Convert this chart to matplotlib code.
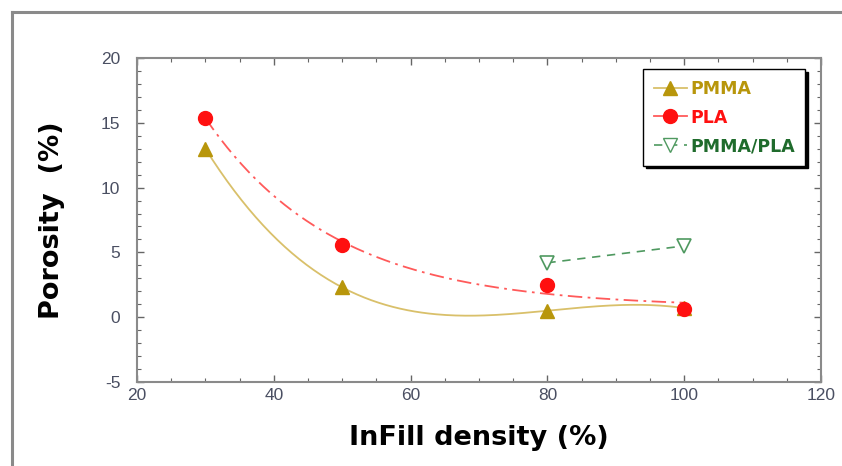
import matplotlib
matplotlib.use("Agg")
import matplotlib.pyplot as plt
from matplotlib.lines import Line2D
import numpy as np

# data
infill = [30, 50, 80, 100]
pmma = [13.0, 2.3, 0.5, 0.7]
pla = [15.4, 5.6, 2.5, 0.6]
blend_x = [80, 100]
blend = [4.2, 5.5]

gold = "#b8960b"
gold_line = "#d9c06a"
red = "#ff1010"
red_line = "#ff5a5a"
green_text = "#1f6b2c"
green = "#4f9960"

plt.rcParams["font.family"] = ["Liberation Sans Narrow", "Liberation Sans", "DejaVu Sans"]
plt.rcParams["axes.unicode_minus"] = False

fig = plt.figure(figsize=(8.42, 4.66), dpi=100)
ax = fig.add_axes([137 / 842, 1 - 382 / 466, 684 / 842, 324 / 466])

xs = np.linspace(30, 100, 200)

# PMMA trend: cubic through the points
c_pmma = np.polyfit(infill, pmma, 3)

# PLA trend: exponential decay with offset, least squares over the rate
x_arr = np.array(infill, dtype=float)
y_arr = np.array(pla)
best = None
for b in np.linspace(0.005, 0.2, 800):
    A = np.column_stack([np.exp(-b * (x_arr - 30)), np.ones_like(x_arr)])
    coef, res, _, _ = np.linalg.lstsq(A, y_arr, rcond=None)
    err = np.sum((A @ coef - y_arr) ** 2)
    if best is None or err < best[0]:
        best = (err, b, coef)
_, b_pla, (a_pla, off_pla) = best
pla_curve = a_pla * np.exp(-b_pla * (xs - 30)) + off_pla

ax.plot(xs, np.polyval(c_pmma, xs), color=gold_line, lw=1.3, zorder=2)
ax.plot(xs, pla_curve, color=red_line, lw=1.3, ls=(0, (8, 3, 1.5, 3)), zorder=2)
ax.plot(blend_x, blend, color=green, lw=1.2, ls=(0, (5, 4)), zorder=2)

ax.plot(infill, pmma, ls="none", marker="^", ms=10, color=gold, zorder=3)
ax.plot(infill, pla, ls="none", marker="o", ms=10, color=red, zorder=3)
ax.plot(blend_x, blend, ls="none", marker="v", ms=10, mfc="white", mec=green, mew=1.2, zorder=3)

ax.set_xlim(20, 120)
ax.set_ylim(-5, 20)
ax.set_xticks(np.arange(20, 121, 20))
ax.set_yticks(np.arange(-5, 21, 5))
ax.set_xticks(np.arange(20, 121, 5), minor=True)
ax.set_yticks(np.arange(-5, 21, 1), minor=True)
ax.tick_params(which="both", direction="in", top=True, right=True,
               color="#666666", labelcolor="#4a4f62", labelsize=12.5)
ax.tick_params(which="major", length=5, width=1)
ax.tick_params(which="minor", length=3, width=0.8)
ax.tick_params(axis="x", pad=4)
ax.tick_params(axis="y", pad=12)
for s in ax.spines.values():
    s.set_color("#8a8a8a")
    s.set_linewidth(1.5)

bold = {"family": "DejaVu Sans", "weight": "bold", "size": 19.5}
ax.set_xlabel("InFill density (%)", fontdict=bold, labelpad=16)
ax.set_ylabel("Porosity  (%)", fontdict=bold, labelpad=26)

handles = [
    Line2D([], [], color=gold_line, lw=1.3, marker="^", ms=10, mfc=gold, mec=gold),
    Line2D([], [], color=red_line, lw=1.3, marker="o", ms=10, mfc=red, mec=red),
    Line2D([], [], color=green, lw=1.2, ls=(0, (5, 4)), marker="v", ms=10, mfc="white", mec=green),
]
leg = ax.legend(handles, ["PMMA", "PLA", "PMMA/PLA"], loc="upper right",
                bbox_to_anchor=(0.977, 0.965), frameon=True, fancybox=False,
                shadow={"color": "black", "alpha": 1}, edgecolor="black",
                prop={"family": "DejaVu Sans", "weight": "bold", "size": 12.5},
                handlelength=1.9, handletextpad=0.2, labelspacing=0.62,
                borderpad=0.6, borderaxespad=0,
                labelcolor=[gold, red, green_text])
leg.get_frame().set_linewidth(1.0)

# outer frame around the figure
fig.add_artist(Line2D([12 / 842, 12 / 842], [0, 1 - 12 / 466], color="#8a8a8a", lw=2.2))
fig.add_artist(Line2D([12 / 842, 1], [1 - 12 / 466, 1 - 12 / 466], color="#8a8a8a", lw=2.2))

fig.savefig("out.png", dpi=100)
